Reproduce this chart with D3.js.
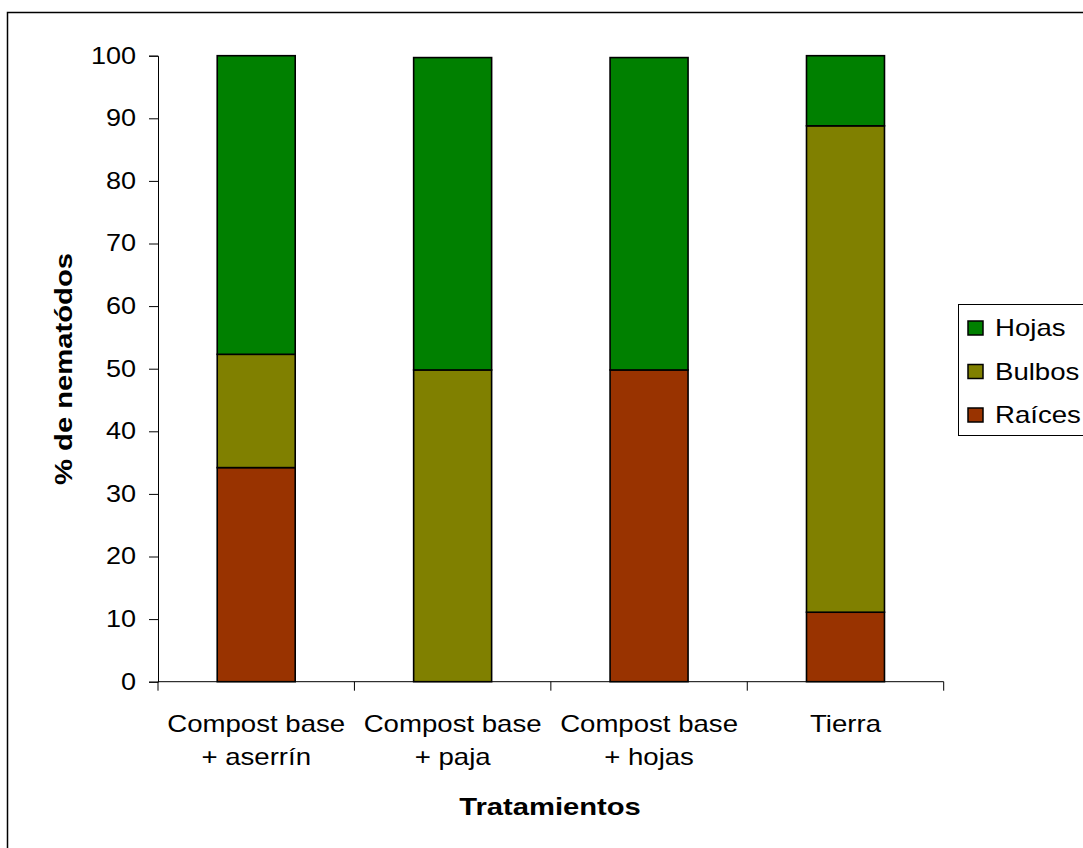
<!DOCTYPE html>
<html>
<head>
<meta charset="utf-8">
<script src="https://cdn.jsdelivr.net/npm/d3@7/dist/d3.min.js"></script>
<style>
  html, body { margin: 0; padding: 0; background: #fff; }
  svg { display: block; font-family: "Liberation Sans", Arial, sans-serif; }
</style>
</head>
<body>
<svg id="chart" width="1083" height="848"></svg>
<script>
// Treatments (two-line labels) and nematode share per plant part (%)
const categories = ["Compost base\n+ aserrín", "Compost base\n+ paja", "Compost base\n+ hojas", "Tierra"];
const raices = [34.2, 0, 49.8, 11.1];
const bulbos = [18.1, 49.8, 0, 77.7];
const hojas  = [47.7, 49.9, 49.9, 11.2];
const seriesNames = ["Raíces", "Bulbos", "Hojas"];
const seriesColors = ["#993300", "#808000", "#008000"];
const yTicks = [0, 10, 20, 30, 40, 50, 60, 70, 80, 90, 100];

// Text is drawn slightly widened along its reading direction
const WIDE = 1.2, WIDE_BOLD = 1.27;

const svg = d3.select("#chart");
const plot = { left: 158, right: 943.7, top: 55.7, bottom: 681.7 };

// Chart frame
svg.append("rect")
  .attr("x", 7.5).attr("y", 12.5)
  .attr("width", 1200).attr("height", 1000)
  .attr("fill", "#fff").attr("stroke", "#000").attr("stroke-width", 1.5);

const x = d3.scaleBand()
  .domain(categories)
  .range([plot.left, plot.right])
  .paddingInner(0.603)
  .paddingOuter(0.3015);

const y = d3.scaleLinear().domain([0, 100]).range([plot.bottom, plot.top]);

const rows = categories.map((c, i) => ({ cat: c, "Raíces": raices[i], "Bulbos": bulbos[i], "Hojas": hojas[i] }));
const stacked = d3.stack().keys(seriesNames)(rows);

// Places a text at (tx, ty) with a horizontal stretch
function wideText(parent, tx, ty, str, opts = {}) {
  const sx = opts.bold ? WIDE_BOLD : WIDE;
  const rot = opts.rotate ? ` rotate(${opts.rotate})` : "";
  return parent.append("text")
    .attr("transform", `translate(${tx},${ty})${rot} scale(${sx},1)`)
    .attr("text-anchor", opts.anchor || "start")
    .attr("font-size", 23)
    .attr("font-weight", opts.bold ? "bold" : "normal")
    .attr("fill", "#000")
    .text(str);
}

// Y axis
const yAxis = svg.append("g")
  .attr("transform", `translate(${plot.left},0)`)
  .call(d3.axisLeft(y).tickValues(yTicks).tickSize(9).tickPadding(12).tickFormat(d3.format("d")));
yAxis.select(".domain").attr("stroke", "#000");
yAxis.selectAll(".tick line").attr("stroke", "#000");
yAxis.selectAll(".tick text")
  .attr("font-size", 23).attr("fill", "#000")
  .attr("font-family", "Liberation Sans, Arial, sans-serif")
  .attr("x", 0)
  .attr("transform", `translate(-22,0) scale(${WIDE * 0.98},1)`);

// X axis line with ticks at band boundaries
const xAxisG = svg.append("g").attr("transform", `translate(0,${plot.bottom})`);
xAxisG.append("line")
  .attr("x1", plot.left).attr("x2", plot.right)
  .attr("y1", 0).attr("y2", 0)
  .attr("stroke", "#000");
const boundaries = categories.map(c => x(c) - x.step() * x.paddingInner() / 2);
boundaries.push(plot.right);
xAxisG.selectAll("line.tick")
  .data(boundaries)
  .join("line")
  .attr("class", "tick")
  .attr("x1", d => d).attr("x2", d => d)
  .attr("y1", 0).attr("y2", 9)
  .attr("stroke", "#000");

// Category labels
categories.forEach(c => {
  c.split("\n").forEach((line, i) => {
    wideText(xAxisG, x(c) + x.bandwidth() / 2, 50 + i * 33.5, line, { anchor: "middle" });
  });
});

// Stacked bars
svg.append("g").selectAll("g")
  .data(stacked)
  .join("g")
  .attr("fill", (d, i) => seriesColors[i])
  .selectAll("rect")
  .data(d => d.filter(s => s[1] - s[0] > 0))
  .join("rect")
  .attr("x", d => x(d.data.cat))
  .attr("width", x.bandwidth())
  .attr("y", d => y(d[1]))
  .attr("height", d => y(d[0]) - y(d[1]))
  .attr("stroke", "#000")
  .attr("stroke-width", 1.6);

// Axis titles
wideText(svg, 550, 815, "Tratamientos", { anchor: "middle", bold: true });
wideText(svg, 72, 369, "% de nematódos", { anchor: "middle", bold: true, rotate: -90 });

// Legend (top entry = last series)
const legend = svg.append("g");
legend.append("rect")
  .attr("x", 958.5).attr("y", 304.5)
  .attr("width", 200).attr("height", 131)
  .attr("fill", "#fff").attr("stroke", "#000").attr("stroke-width", 1);
const legendItems = seriesNames.slice().reverse();
const legendColors = seriesColors.slice().reverse();
legendItems.forEach((name, i) => {
  const cy = 328 + i * 43.5;
  legend.append("rect")
    .attr("x", 968).attr("y", cy - 7)
    .attr("width", 15).attr("height", 14)
    .attr("fill", legendColors[i])
    .attr("stroke", "#000").attr("stroke-width", 1.5);
  wideText(legend, 995, cy + 8, name);
});
</script>
</body>
</html>
